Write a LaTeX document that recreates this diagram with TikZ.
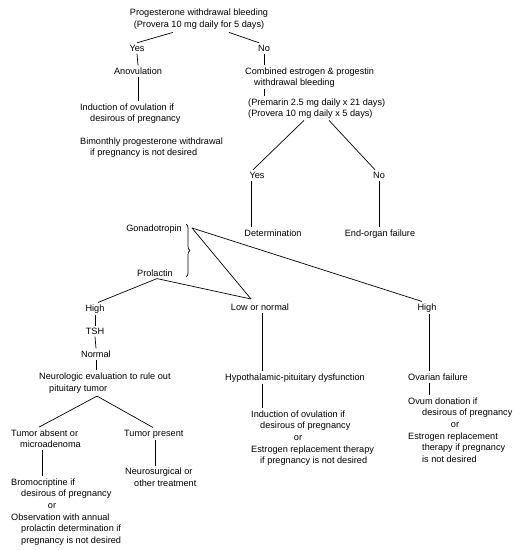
\documentclass[tikz,border=0pt]{standalone}
\usepackage{fontspec}
\setmainfont{Liberation Sans}
\usetikzlibrary{calc,decorations.pathreplacing}
\tikzset{
  lbl/.style={inner sep=2bp, font=\fontsize{9.2}{11}\selectfont, text=black},
  lc/.style={lbl, anchor=base},
  lw/.style={lbl, anchor=base west},
  le/.style={lbl, anchor=base east},
  conn/.style={draw=black, line width=0.7bp},
}
\begin{document}
\begin{tikzpicture}[x=1bp,y=-1bp]
\fill[white] (0,0) rectangle (516,550);
\useasboundingbox (0,0) rectangle (516,550);
% top
\node[lc] (p1) at (199,15.3) {Progesterone withdrawal bleeding};
\node[lc] (p2) at (199,27.3) {(Provera 10 mg daily for 5 days)};
\node[lc] (yes1) at (137,51.3) {Yes};
\node[lc] (no1) at (264,51.3) {No};
\node[lc] (anov) at (138,74.3) {Anovulation};
\node[lw] (ind1) at (78,110.3) {Induction of ovulation if};
\node[lw] (ind2) at (88,121.3) {desirous of pregnancy};
\node[lw] (bim1) at (78,144.3) {Bimonthly progesterone withdrawal};
\node[lw] (bim2) at (88,155.3) {if pregnancy is not desired};
\node[lw] (comb1) at (243,74.3) {Combined estrogen \& progestin};
\node[lw] (comb2) at (252,85.3) {withdrawal bleeding};
\node[lw] (prem1) at (246,105.3) {(Premarin 2.5 mg daily x 21 days)};
\node[lw] (prem2) at (246,116.3) {(Provera 10 mg daily x 5 days)};
\node[lc] (yes2) at (257,178.3) {Yes};
\node[lc] (no2) at (379,178.3) {No};
\node[lc] (det) at (273,236.3) {Determination};
\node[lc] (eof) at (380,236.3) {End-organ failure};
% middle
\node[le] (gon) at (184,231.3) {Gonadotropin};
\node[le] (prl) at (175,276.3) {Prolactin};
\node[lc] (highL) at (95,311.3) {High};
\node[lc] (low) at (260,310.3) {Low or normal};
\node[lc] (highR) at (427,310.3) {High};
\node[lc] (tsh) at (95,334.3) {TSH};
\node[lc] (norm) at (96,357.3) {Normal};
\node[lw] (neu1) at (37,379) {Neurologic evaluation to rule out};
\node[lw] (neu2) at (47,391) {pituitary tumor};
\node[lc] (hyp) at (295,380.3) {Hypothalamic-pituitary dysfunction};
\node[lw] (ova) at (406,380.3) {Ovarian failure};
% right bottom
\node[lw] (ri1) at (249,417) {Induction of ovulation if};
\node[lw] (ri2) at (258,428.7) {desirous of pregnancy};
\node[lc] (ri3) at (298,440.4) {or};
\node[lw] (ri4) at (249,452.1) {Estrogen replacement therapy};
\node[lw] (ri5) at (258,463.8) {if pregnancy is not desired};
\node[lw] (ov1) at (406,404) {Ovum donation if};
\node[lw] (ov2) at (420,415.7) {desirous of pregnancy};
\node[lc] (ov3) at (455,427.4) {or};
\node[lw] (ov4) at (406,439.1) {Estrogen replacement};
\node[lw] (ov5) at (420,450.8) {therapy if pregnancy};
\node[lw] (ov6) at (420,462.5) {is not desired};
% left bottom
\node[lw] (ta1) at (9,436) {Tumor absent or};
\node[lw] (ta2) at (18,447.7) {microadenoma};
\node[lw] (tp) at (122,436) {Tumor present};
\node[lw] (br1) at (9,485) {Bromocriptine if};
\node[lw] (br2) at (19,496.7) {desirous of pregnancy};
\node[lc] (br3) at (52,508.4) {or};
\node[lw] (br4) at (9,520.1) {Observation with annual};
\node[lw] (br5) at (19,531.8) {prolactin determination if};
\node[lw] (br6) at (19,543.5) {pregnancy is not desired};
\node[lw] (ns1) at (123,474.5) {Neurosurgical or};
\node[lw] (ns2) at (132,486.2) {other treatment};
% coordinates
\coordinate (bt) at (186,224);
\coordinate (bb) at (186,277);
\coordinate (gp) at (192,228);
\coordinate (lp) at (251,299);
\coordinate (pp) at ($(prl.south)+(2,0)$);
\coordinate (tap) at ($(neu2.south west)+(50,1)$);
% connectors
\draw[conn] ($(p2.south)+(-26,1)$) -- (yes1.north);
\draw[conn] ($(p2.south)+(30,1)$) -- ($(no1.north)+(-5,0)$);
\draw[conn] (yes1.south) -- (anov.north);
\draw[conn] (anov.south) -- (anov.south |- ind1.north);
\draw[conn] (no1.south) -- (no1.south |- comb1.north);
\draw[conn] (comb2.south -| no1.south) -- (no1.south |- prem1.north);
\draw[conn] ($(prem2.south west)+(58,0)$) -- ($(yes2.north)+(-4,0)$);
\draw[conn] ($(prem2.south west)+(83,0)$) -- ($(no2.north)+(-4,0)$);
\draw[conn] ($(yes2.south)+(-6,0)$) -- ($(det.north -| yes2.south)+(-6,0)$);
\draw[conn] (no2.south) -- (no2.south |- eof.north);
\draw[conn, decorate, decoration={brace, amplitude=4bp}] (bt) -- (bb);
\draw[conn] (gp) -- (lp);
\draw[conn] (gp) -- ($(highR.north)+(-5,0)$);
\draw[conn] (pp) -- ($(highL.north)+(3,0)$);
\draw[conn] (pp) -- (lp);
\draw[conn] (highL.south) -- (tsh.north);
\draw[conn] (tsh.south) -- (norm.north);
\draw[conn] (norm.south) -- (norm.south |- neu1.north);
\draw[conn] ($(low.south)+(2,0)$) -- ($(hyp.north -| low.south)+(2,0)$);
\draw[conn] ($(highR.south)+(2,0)$) -- ($(ova.north -| highR.south)+(2,0)$);
\draw[conn] ($(hyp.south -| low.south)+(2,0)$) -- ($(ri1.north -| low.south)+(2,0)$);
\draw[conn] ($(ova.south -| highR.south)+(2,0)$) -- ($(ov1.north -| highR.south)+(2,0)$);
\draw[conn] (tap) -- ($(ta1.north west)+(30,0)$);
\draw[conn] (tap) -- ($(tp.north west)+(31,0)$);
\draw[conn] ($(ta2.south west)+(24,0)$) -- ($(br1.north west)+(33,0)$);
\draw[conn] ($(tp.south west)+(33,0)$) -- ($(ns1.north west)+(32,0)$);
\end{tikzpicture}
\end{document}
